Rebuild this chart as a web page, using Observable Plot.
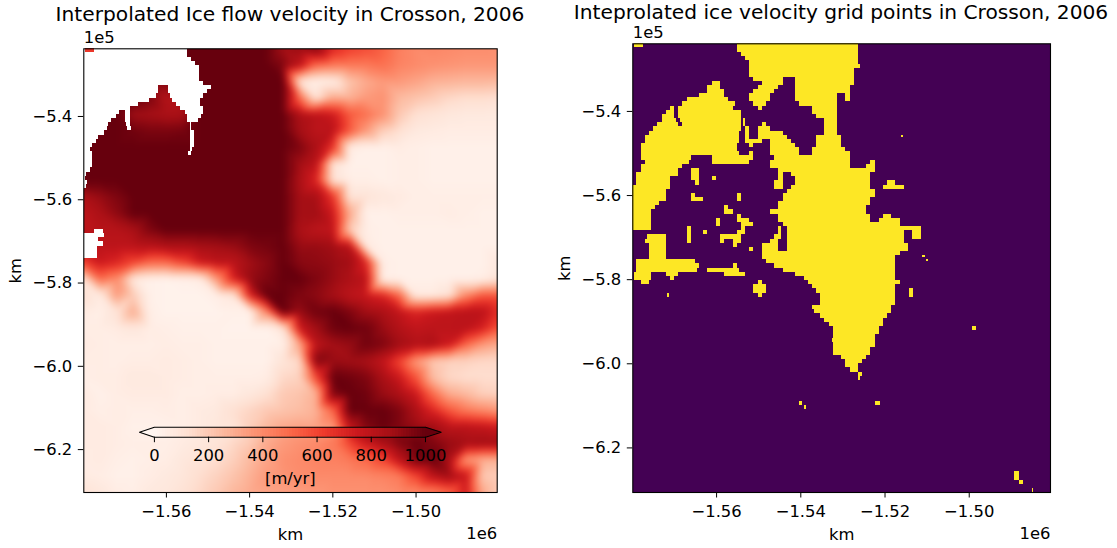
<!DOCTYPE html>
<html>
<head>
<meta charset="utf-8">
<script src="https://cdn.jsdelivr.net/npm/d3@7"></script>
<script src="https://cdn.jsdelivr.net/npm/@observablehq/plot@0.6"></script>
<style>
  html,body{margin:0;padding:0;background:#fff;}
  #wrap{position:relative;width:1117px;height:548px;overflow:hidden;font-family:"DejaVu Sans";color:#000;}
  #wrap svg{position:absolute;background:transparent;}
  .ttl{position:absolute;text-align:center;white-space:nowrap;font-size:20.2px;line-height:24px;}
</style>
</head>
<body>
<div id="wrap">
  <div class="ttl" id="t1" style="left:0;width:580px;top:2px;">Interpolated Ice flow velocity in Crosson, 2006</div>
  <div class="ttl" id="t2" style="left:566px;width:550px;top:0px;">Inteprolated ice velocity grid points in Crosson, 2006</div>
</div>
<script>
// ---- Axis ticks ----
const xTicks = [-1.56, -1.54, -1.52, -1.50];
const yTicks = [-5.4, -5.6, -5.8, -6.0, -6.2];
const cbTicks = [0, 200, 400, 600, 800, 1000];
// ---- Reds colormap ----
const redsStops = [0, 125, 250, 375, 500, 625, 750, 875, 1000];
const redsColors = ["#fff5f0","#fee0d2","#fcbba1","#fc9272","#fb6a4a","#ef3b2c","#cb181d","#a50f15","#67000d"];
// ---- Ice velocity samples [m/yr], 26 columns, 28 rows ----
const velRows = [
[850,900,900,900,950,950,1000,1000,1000,1000,1000,1000,880,900,950,700,620,580,520,430,400,410,400,390,390,380],
[900,900,900,950,950,950,1000,1000,1000,1000,1000,1000,950,800,500,450,450,450,480,420,400,380,370,360,360,360],
[900,900,900,950,950,950,1000,1000,1000,1000,1000,1000,1000,100,30,50,220,300,350,350,320,280,270,260,260,250],
[1000,1000,1000,1000,950,830,850,1000,1000,1000,1000,1000,1000,500,100,300,280,350,380,250,220,190,150,130,130,120],
[1000,1000,1000,880,870,850,860,1000,1000,1000,1000,1000,1000,850,800,750,550,480,380,200,120,100,80,70,70,70],
[1000,1000,1000,980,960,960,970,1000,1000,1000,1000,1000,1000,870,800,800,550,350,180,120,70,60,50,50,50,50],
[1000,1000,1000,1000,1000,1000,1000,1000,1000,1000,1000,1000,1000,950,850,650,60,30,30,50,40,30,30,30,30,30],
[1000,1000,1000,1000,1000,1000,1000,1000,1000,1000,1000,1000,1000,880,800,100,30,30,30,40,40,30,30,30,30,30],
[1000,1000,1000,1000,1000,1000,1000,1000,1000,1000,1000,1000,1000,850,700,100,40,40,30,40,40,30,30,30,30,30],
[850,900,950,1000,1000,1000,1000,1000,1000,1000,1000,1000,1000,870,860,650,100,100,80,60,40,40,40,40,40,40],
[800,850,920,1000,1000,1000,1000,1000,1000,1000,1000,1000,1000,870,880,750,300,30,30,40,40,40,50,40,30,30],
[800,820,820,860,950,1000,1000,1000,1000,1000,1000,1000,1000,850,800,780,200,40,30,30,30,30,30,30,30,30],
[800,800,800,800,820,850,850,870,880,900,950,970,1000,900,900,880,820,60,30,30,30,30,30,30,30,30],
[600,750,700,600,500,500,600,750,800,800,880,930,1000,930,920,900,880,700,40,30,30,30,30,30,30,80],
[100,500,400,80,30,20,30,50,350,700,900,950,1000,1000,950,900,850,800,40,30,30,30,30,30,40,100],
[120,60,350,200,30,20,20,20,40,80,700,1000,1000,950,920,870,800,760,700,500,60,60,100,400,550,550],
[60,40,100,300,40,20,20,20,20,30,30,400,1000,900,980,1000,950,880,850,780,700,750,780,800,800,650],
[50,50,60,80,50,40,30,30,30,20,20,20,100,750,880,980,1000,980,900,830,780,800,800,800,720,550],
[60,50,40,40,40,50,40,40,30,30,30,30,40,300,800,870,900,980,950,880,830,850,750,500,350,300],
[50,50,40,50,50,60,50,40,30,30,30,30,100,150,950,900,880,860,780,600,350,200,170,170,150,150],
[40,50,50,70,70,60,50,40,40,40,40,50,150,170,600,1000,980,950,860,750,560,240,150,130,130,130],
[60,30,50,60,60,60,40,40,50,50,80,120,200,220,280,950,1000,980,900,850,750,500,300,250,180,170],
[60,40,50,40,40,50,40,60,70,120,160,200,220,240,280,500,1000,1000,1000,950,850,700,550,450,400,350],
[60,60,50,30,30,30,40,60,80,100,180,250,300,320,320,350,800,950,1000,950,900,880,800,800,780,750],
[60,60,50,40,40,40,60,80,100,150,200,300,350,380,400,450,600,750,850,950,1000,950,900,870,880,880],
[50,60,40,30,40,50,80,100,130,180,250,320,380,400,420,430,450,500,600,800,980,1000,850,350,280,280],
[60,50,30,30,50,70,90,130,170,220,280,350,370,390,400,400,400,400,420,450,600,800,880,780,200,180],
[100,80,50,40,70,80,110,150,200,260,300,320,330,340,360,380,380,380,380,400,400,420,500,750,300,170]
];
// ---- Cells with no velocity (left map): [row, startCol, endCol] on the 100x108 km grid ----
const noDataRuns = [
[0,0,25],[1,0,25],[2,0,26],[3,0,27],[4,0,28],[5,0,28],[6,0,28],[7,0,28],[8,0,29],
[9,0,18],[9,20.5,31],[10,0,18],[10,20.5,30],[11,0,17.5],[11,21,29],[12,0,16],[12,21.5,28.2],
[13,0,13.3],[13,22.5,28.2],[14,0,11.3],[14,23.5,29],[15,0,8.7],[15,10,11.2],[15,24.5,29],
[16,0,8],[16,10,11.2],[16,25,28.5],[17,0,6.8],[17,10,11.2],[17,25,27.8],
[18,0,6],[18,10.4,11.4],[18,25.8,26.1],[19,0,5.7],[19,10.5,11.5],[19,25.8,26.1],
[20,0,5],[20,25.8,26.7],[21,0,3.5],[21,25.8,26.7],[22,0,3],[22,25.8,26.7],[23,0,2],[23,25.8,26.7],
[24,0,1.7],[24,25.8,26.3],[25,0,2],[25,25.4,26],[26,0,2],[27,0,2],[28,0,2.2],[29,0,1.5],[30,0,0.7],
[31,0,0.5],[32,0,0.9],[33,0,0.7],
[44,2.5,4.8],[45,0,5],[46,0,3.6],[47,0,4.8],[48,0,3.2],[49,0,3.2],[50,0,3.2]
];
// A small patch of velocity in the top-left corner: [row, startCol, endCol, m/yr]
const cornerPatch = [[0,0.4,2.6,640]];
// ---- Grid points (right map): [row, startCol, endCol] ----
const gridRuns = [
[0,0.4,2.6],[0,25,54],[1,25,54],[2,26,54],[3,27,54],[4,28,54],[5,28,54.5],[6,28,53],[7,28,53],
[8,29,36],[8,39,53],[9,31,36],[9,39,53],[9,19,21],[10,30,35],[10,39,52],[10,18,21],
[11,29,34],[11,39,52],[11,18,22],[12,28,33],[12,39,49],[12,51,52],[12,16,22],
[13,28,33],[13,39,49],[13,51,52],[13,13,23],[14,29,32],[14,40,49],[14,12,24.5],
[15,30,31],[15,43,49],[15,9,10],[15,11,24],[16,43,49],[16,8,10],[16,11,26],
[17,44,49],[17,7,10],[17,11,26],[18,46,49],[18,7,10.5],[18,11.5,26],[18,26.5,27],
[19,46,49],[19,6,11],[19,12,26],[19,26.5,27],[19,31,32],
[20,46,49],[20,5,26],[20,27,28],[20,30,33],
[21,46,49],[21,4,25.5],[21,27,28],[21,30,36],
[22,44,50],[22,3,25.5],[22,27,28],[22,30,37],
[23,3,25.5],[23,27,31],[23,33,38],[23,44,50],
[24,2,25],[24,28,29],[24,33,39],[24,44,50],
[25,2,25],[25,33,40],[25,43,51],
[26,2,25.5],[26,28,29],[26,33,40],[26,43,52],
[27,2,14],[27,19,29],[27,34,52],
[28,3,13.5],[28,19,28],[28,33,52],[28,57,58],
[29,2,12],[29,33,52],[29,56,58],
[30,2,11],[30,14,16],[30,35,58],
[31,1,11],[31,14,16],[31,35,36],[31,38,57],
[32,1,9],[32,14,16],[32,19,20],[32,35,36],[32,39,57],
[33,1,9],[33,15,16],[33,34,36],[33,39,57],[33,61,63],
[34,0,9],[34,34,36],[34,38,57],[34,60,65],
[35,0,8],[35,37,58],
[36,0,8],[36,14,15],[36,25,26],[36,36,58],
[37,0,8],[37,14,17],[37,25,26],[37,36,57],
[38,0,6.5],[38,35,57],
[39,0,5.5],[39,22,23],[39,35,56],
[40,0,4.5],[40,22,24],[40,33,56],
[41,0,4.5],[41,25,26],[41,35,57],[41,60,62],
[42,0,4.5],[42,20,21],[42,25,28],[42,35,57],[42,59,64],
[43,0,4.5],[43,20,21],[43,26,29],[43,36,64],
[44,0,4.5],[44,13,14],[44,26,27],[44,35,35.5],[44,37,69],
[45,13,14],[45,17,18],[45,25,27],[45,35,35.5],[45,37,65],[45,67,69],
[46,3.5,8],[46,13,14],[46,21,26],[46,34,35.5],[46,37,65],[46,67,69],
[47,3,8],[47,13,14],[47,21,22],[47,24,26],[47,33,35],[47,37,65],
[48,4,8],[48,24,25],[48,31,35],[48,37,66],
[49,4,8],[49,28,29],[49,31,35],[49,37,66],
[50,4,8],[50,31,64],
[51,4,8],[51,31,63],
[52,1,15],[52,32,63],
[53,1,16],[53,24,25],[53,34,63],
[54,1,15.6],[54,18,25.5],[54,36,63],
[55,0.5,4.5],[55,8,11],[55,22,27],[55,39,63],
[56,0.5,4.5],[56,9,10],[56,41,63],
[57,2,4],[57,30,31],[57,42,64],
[58,29,32],[58,43,63],
[59,29,32],[59,44,63],[59,66.3,67.3],
[60,8.2,8.7],[60,30,31],[60,45,63],[60,66.3,67.3],
[61,45,63],[62,45,63],[63,43,62],[64,43.5,62],[65,45,61],[66,46,60],[67,47,60],
[68,48,59],[68,81.4,82.4],[69,48,59],[70,48,58],[71,47.8,58],[72,48,58],[73,48,57],[74,48,57],
[75,50,56],[76,51,55],[77,51,54],[78,52,54],[79,54,55],[80,54,54.5],
[86,40,40.6],[86,58.1,59.2],[87,41,41.6],
[103,91.5,92.5],[104,91.5,92.5],[105,92.5,93.5],[107,95.6,96]
];
const fineSpecks = [[22,64.3,64.8],[51,69.3,70.1],[52,70.3,70.7]];

// ---- Scales domains ----
const xL = [-1.57985, -1.4805], yL = [-6.303, -5.2375];
const xR = [-1.5799, -1.4807], yR = [-6.306, -5.2392];
const nCols = 100, nRows = 108;

const velPoints = velRows.flatMap((row, i) => row.map((v, j) => ({
  x: -1.58 + j * 0.004,
  y: yL[1] - i * (yL[1] - yL[0]) / (velRows.length - 1),
  v
})));
const runsToRects = (runs, xd, yd) => runs.map(r => ({
  x1: xd[0] + r[1] * (xd[1] - xd[0]) / nCols,
  x2: xd[0] + r[2] * (xd[1] - xd[0]) / nCols,
  y1: yd[1] - r[0] * (yd[1] - yd[0]) / nRows,
  y2: yd[1] - (r[0] + 1) * (yd[1] - yd[0]) / nRows,
  v: r[3]
}));
const colorOpts = {type: "linear", domain: redsStops, range: redsColors, clamp: true};
const baseStyle = {fontFamily: "DejaVu Sans", fontSize: "16.4px", background: "transparent", color: "#000", overflow: "visible"};
const fmtX = d3.format(".2f"), fmtY = d3.format(".1f");
const axes = (xOff, yOff) => [
  Plot.axisX(xTicks, {anchor: "bottom", tickSize: 5.5, tickPadding: 7, tickFormat: fmtX, label: "km", labelArrow: "none", labelAnchor: "center", labelOffset: xOff, stroke: "#000", color:"#000"}),
  Plot.axisY(yTicks, {anchor: "left", tickSize: 5.5, tickPadding: 6, tickFormat: fmtY, label: "km", labelArrow: "none", labelAnchor: "center", labelOffset: yOff, stroke: "#000", color:"#000"}),
];
const wrap = document.getElementById("wrap");

// ---- Left map ----
const left = Plot.plot({
  width: 558, height: 548,
  marginLeft: 83.3, marginRight: 61.3, marginTop: 48.3, marginBottom: 56,
  x: {domain: xL, axis: null}, y: {domain: yL, axis: null},
  color: colorOpts,
  style: baseStyle,
  marks: [
    Plot.raster(velPoints, {x: "x", y: "y", fill: "v", interpolate: "barycentric", blur: 3}),
    Plot.rect(runsToRects(noDataRuns, xL, yL), {x1: "x1", x2: "x2", y1: "y1", y2: "y2", fill: "#fff", shapeRendering: "crispEdges"}),
    Plot.rect(runsToRects(cornerPatch, xL, yL), {x1: "x1", x2: "x2", y1: "y1", y2: "y2", fill: "v", shapeRendering: "crispEdges"}),
    Plot.frame({stroke: "#000", strokeWidth: 1.1}),
    ...axes(47, 74),
    Plot.text(["1e5"], {text: d => d, frameAnchor: "top-left", lineAnchor: "middle", dy: -11, fill: "#000"}),
    Plot.text(["1e6"], {text: d => d, frameAnchor: "bottom-right", lineAnchor: "middle", dy: 41, fill: "#000"})
  ]
});
left.style.left = "0px"; left.style.top = "0px";
wrap.appendChild(left);

// ---- Colour bar drawn over the left map ----
const cbStrips = d3.range(0, 1000, 10).map(v => ({x1: v, x2: v + 10, v: v + 5}));
const arrowLow = [{x: -55, lo: 0.5, hi: 0.5}, {x: 0, lo: 0, hi: 1}];
const arrowHigh = [{x: 1000, lo: 0, hi: 1}, {x: 1058, lo: 0.5, hi: 0.5}];
const cbOutline = [{x: -55, y: 0.5}, {x: 0, y: 1}, {x: 1000, y: 1}, {x: 1058, y: 0.5}, {x: 1000, y: 0}, {x: 0, y: 0}, {x: -55, y: 0.5}];
const cbar = Plot.plot({
  width: 558, height: 548,
  marginLeft: 139, marginRight: 117.3, marginTop: 426.7, marginBottom: 111.3,
  x: {domain: [-55, 1058], axis: null}, y: {domain: [0, 1], axis: null},
  color: colorOpts,
  style: baseStyle,
  marks: [
    Plot.rect(cbStrips, {x1: "x1", x2: "x2", y1: 0, y2: 1, fill: "v", shapeRendering: "crispEdges"}),
    Plot.areaY(arrowLow, {x: "x", y1: "lo", y2: "hi", fill: redsColors[0]}),
    Plot.areaY(arrowHigh, {x: "x", y1: "lo", y2: "hi", fill: redsColors[8]}),
    Plot.line(cbOutline, {x: "x", y: "y", stroke: "#000", strokeWidth: 1.1}),
    Plot.axisX(cbTicks, {anchor: "bottom", tickSize: 5.5, tickPadding: 7, tickFormat: d3.format("d"), label: "[m/yr]", labelArrow: "none", labelAnchor: "center", labelOffset: 47, stroke: "#000", color:"#000"})
  ]
});
cbar.style.left = "0px"; cbar.style.top = "0px";
wrap.appendChild(cbar);

// ---- Right map ----
const right = Plot.plot({
  width: 559, height: 548,
  marginLeft: 74.3, marginRight: 67, marginTop: 43.3, marginBottom: 56,
  x: {domain: xR, axis: null}, y: {domain: yR, axis: null},
  style: baseStyle,
  marks: [
    Plot.frame({fill: "#440154"}),
    Plot.rect(runsToRects(gridRuns, xR, yR), {x1: "x1", x2: "x2", y1: "y1", y2: "y2", fill: "#fde725", shapeRendering: "crispEdges"}),
    Plot.rect(runsToRects(fineSpecks, xR, yR), {x1: "x1", x2: "x2", y1: "y1", y2: "y2", fill: "#fde725", insetBottom: 2, shapeRendering: "crispEdges"}),
    Plot.frame({stroke: "#000", strokeWidth: 1.1}),
    ...axes(47, 74),
    Plot.text(["1e5"], {text: d => d, frameAnchor: "top-left", lineAnchor: "middle", dy: -11, fill: "#000"}),
    Plot.text(["1e6"], {text: d => d, frameAnchor: "bottom-right", lineAnchor: "middle", dy: 41, fill: "#000"})
  ]
});
right.style.left = "558px"; right.style.top = "0px";
wrap.appendChild(right);
</script>
</body>
</html>
